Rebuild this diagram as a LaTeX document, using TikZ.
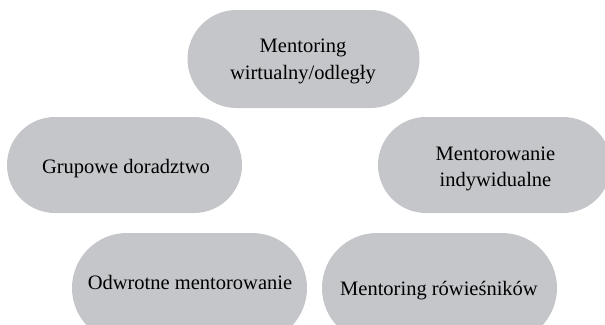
\documentclass[tikz,border=0pt]{standalone}
\usepackage{fontspec}
\setmainfont{Liberation Serif}
\definecolor{pillgray}{RGB}{197,198,202}
\tikzset{
  pill/.style={fill=pillgray, draw=none, rectangle, inner sep=0pt},
  lbl/.style={font=\fontsize{20.5}{26.5}\selectfont, text=black, align=center, inner sep=0pt}
}
\begin{document}
\begin{tikzpicture}[x=1pt,y=-1pt]
\useasboundingbox (0,0) rectangle (605,324);
\clip (0,0) rectangle (605,324);
\node[pill, minimum width=232pt, minimum height=98pt, rounded corners=49pt] (s1) at (303.5,59) {};
\node[pill, minimum width=235pt, minimum height=96pt, rounded corners=48pt] (s2) at (124.5,165) {};
\node[pill, minimum width=233pt, minimum height=96pt, rounded corners=48pt] (s3) at (494.5,165) {};
\node[pill, minimum width=235pt, minimum height=110pt, rounded corners=55pt] (s4) at (189.5,288) {};
\node[pill, minimum width=235pt, minimum height=110pt, rounded corners=55pt] (s5) at (439.5,288) {};
\node[lbl] (t1) at (303,61.6) {Mentoring\\wirtualny/odległy};
\node[lbl, anchor=base] (t2) at (126,173.3) {Grupowe doradztwo};
\node[lbl] (t3) at (495.5,169) {Mentorowanie\\indywidualne};
\node[lbl, anchor=base] (t4) at (190,289) {Odwrotne mentorowanie};
\node[lbl, anchor=base] (t5) at (439,295) {Mentoring rówieśników};
\end{tikzpicture}
\end{document}
